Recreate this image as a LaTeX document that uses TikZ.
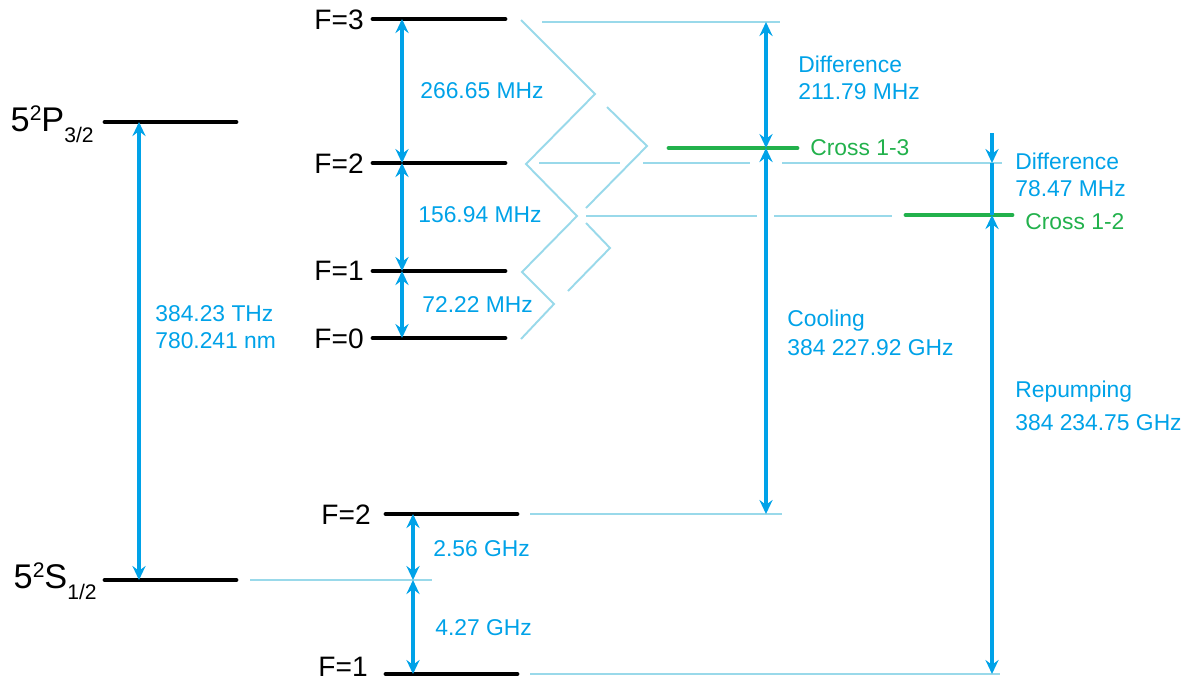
\documentclass[tikz,border=0pt]{standalone}
\usepackage{fontspec}
\setmainfont{Liberation Sans}
\usetikzlibrary{arrows.meta}
\definecolor{tq}{HTML}{00A2E8}
\definecolor{ltq}{HTML}{99D9EA}
\definecolor{grn}{HTML}{22B14C}

\begin{document}
\begin{tikzpicture}[
  x=0.02cm, y=-0.02cm,
  lvl/.style={line width=2.8pt, line cap=round},
  aux/.style={ltq, line width=1.1pt},
  crs/.style={grn, line width=2.8pt, line cap=round},
  tr/.style={tq, line width=1.9pt},
  lab/.style={text=tq, font=\fontsize{13}{15.5}\selectfont, anchor=west, inner sep=0pt, align=left},
  clab/.style={text=grn, font=\fontsize{13}{15.5}\selectfont, anchor=west, inner sep=0pt},
  flab/.style={font=\fontsize{16}{18}\selectfont, anchor=east, inner sep=0pt},
  term/.style={font=\fontsize{19.5}{22}\selectfont, anchor=base east, inner sep=0pt},
  >={Stealth[length=8pt, width=7.5pt, inset=2.8pt]}
]
\useasboundingbox (0,0) rectangle (1194,681);

% fine structure
\draw[lvl] (105,122) -- (236,122);
\draw[lvl] (105,580) -- (236,580);
\node[term] (tp) at (94,131) {5\raisebox{6pt}{\fontsize{12}{12}\selectfont 2}P\raisebox{-6.8pt}{\fontsize{12}{12}\selectfont 3/2}};
\node[term] (ts) at (97,588) {5\raisebox{6pt}{\fontsize{12}{12}\selectfont 2}S\raisebox{-6.8pt}{\fontsize{12}{12}\selectfont 1/2}};

% hyperfine levels
\draw[lvl] (373,19) -- (505,19);
\draw[lvl] (373,163) -- (505,163);
\draw[lvl] (373,271) -- (505,271);
\draw[lvl] (373,338) -- (505,338);
\draw[lvl] (386,514) -- (517,514);
\draw[lvl] (386,674) -- (517,674);
\node[flab] (lf3) at (364,20) {F=3};
\node[flab] (lf2) at (364,164) {F=2};
\node[flab] (lf1) at (364,271) {F=1};
\node[flab] (lf0) at (364,339) {F=0};
\node[flab] (lg2) at (371,515) {F=2};
\node[flab] (lg1) at (368,667) {F=1};

% guide lines
\draw[aux] (521,20) -- (595,94) -- (526,164) -- (577,216) -- (522,272) -- (554,304) -- (521,339);
\draw[aux] (607,107) -- (647,146) -- (586,208);
\draw[aux] (586,223) -- (610,248) -- (568,291);
\draw[aux] (542,22) -- (780,22);
\draw[aux] (539,163) -- (620,163);
\draw[aux] (643,163) -- (750,163);
\draw[aux] (782,163) -- (1002,163);
\draw[aux] (586,216) -- (757,216);
\draw[aux] (774,216) -- (892,216);
\draw[aux] (530,514) -- (782,514);
\draw[aux] (530,674) -- (1000,674);
\draw[aux] (250,580) -- (432,580);

% crossover lines
\draw[crs] (669,148) -- (797,148);
\draw[crs] (906,215) -- (1012,215);
\node[clab] (c13l) at (810,148) {Cross 1-3};
\node[clab] (c12l) at (1025,222) {Cross 1-2};

% arrow ends
\coordinate (p32) at (139,122);
\coordinate (s12) at (139,580);
\coordinate (f3) at (402,19);
\coordinate (f2) at (402,163);
\coordinate (f1) at (402,271);
\coordinate (f0) at (402,338);
\coordinate (g2) at (413,514);
\coordinate (gc) at (413,580);
\coordinate (g1) at (413,674);
\coordinate (dtop) at (766,22);
\coordinate (c13) at (766,148);
\coordinate (cbot) at (766,514);
\coordinate (rtop) at (992,133);
\coordinate (rmid) at (992,163);
\coordinate (c12) at (992,215);
\coordinate (rbot) at (992,674);

\draw[tr, <->] (p32) -- (s12);
\draw[tr, <->] (f3) -- (f2);
\draw[tr, <->] (f2) -- (f1);
\draw[tr, <->] (f1) -- (f0);
\draw[tr, <->] (g2) -- (gc);
\draw[tr, <->] (gc) -- (g1);
\draw[tr, <->] (dtop) -- (c13);
\draw[tr, <->] (c13) -- (cbot);
\draw[tr, ->] (rtop) -- (rmid);
\draw[tr] (rmid) -- (c12);
\draw[tr, <->] (c12) -- (rbot);

% labels
\node[lab] (l1) at (155,327) {384.23 THz\\780.241 nm};
\node[lab] (l2) at (420,91) {266.65 MHz};
\node[lab] (l3) at (418,215) {156.94 MHz};
\node[lab] (l4) at (422,305) {72.22 MHz};
\node[lab] (l5) at (433,549) {2.56 GHz};
\node[lab] (l6) at (435,628) {4.27 GHz};
\node[lab] (l7) at (798,78) {Difference\\211.79 MHz};
\node[lab] (l8) at (1015,175) {Difference\\78.47 MHz};
\node[lab] (l9) at (787,333) {Cooling\\[1pt]384 227.92 GHz};
\node[lab] (l10) at (1015,406) {Repumping\\[3pt]384 234.75 GHz};
\end{tikzpicture}
\end{document}
